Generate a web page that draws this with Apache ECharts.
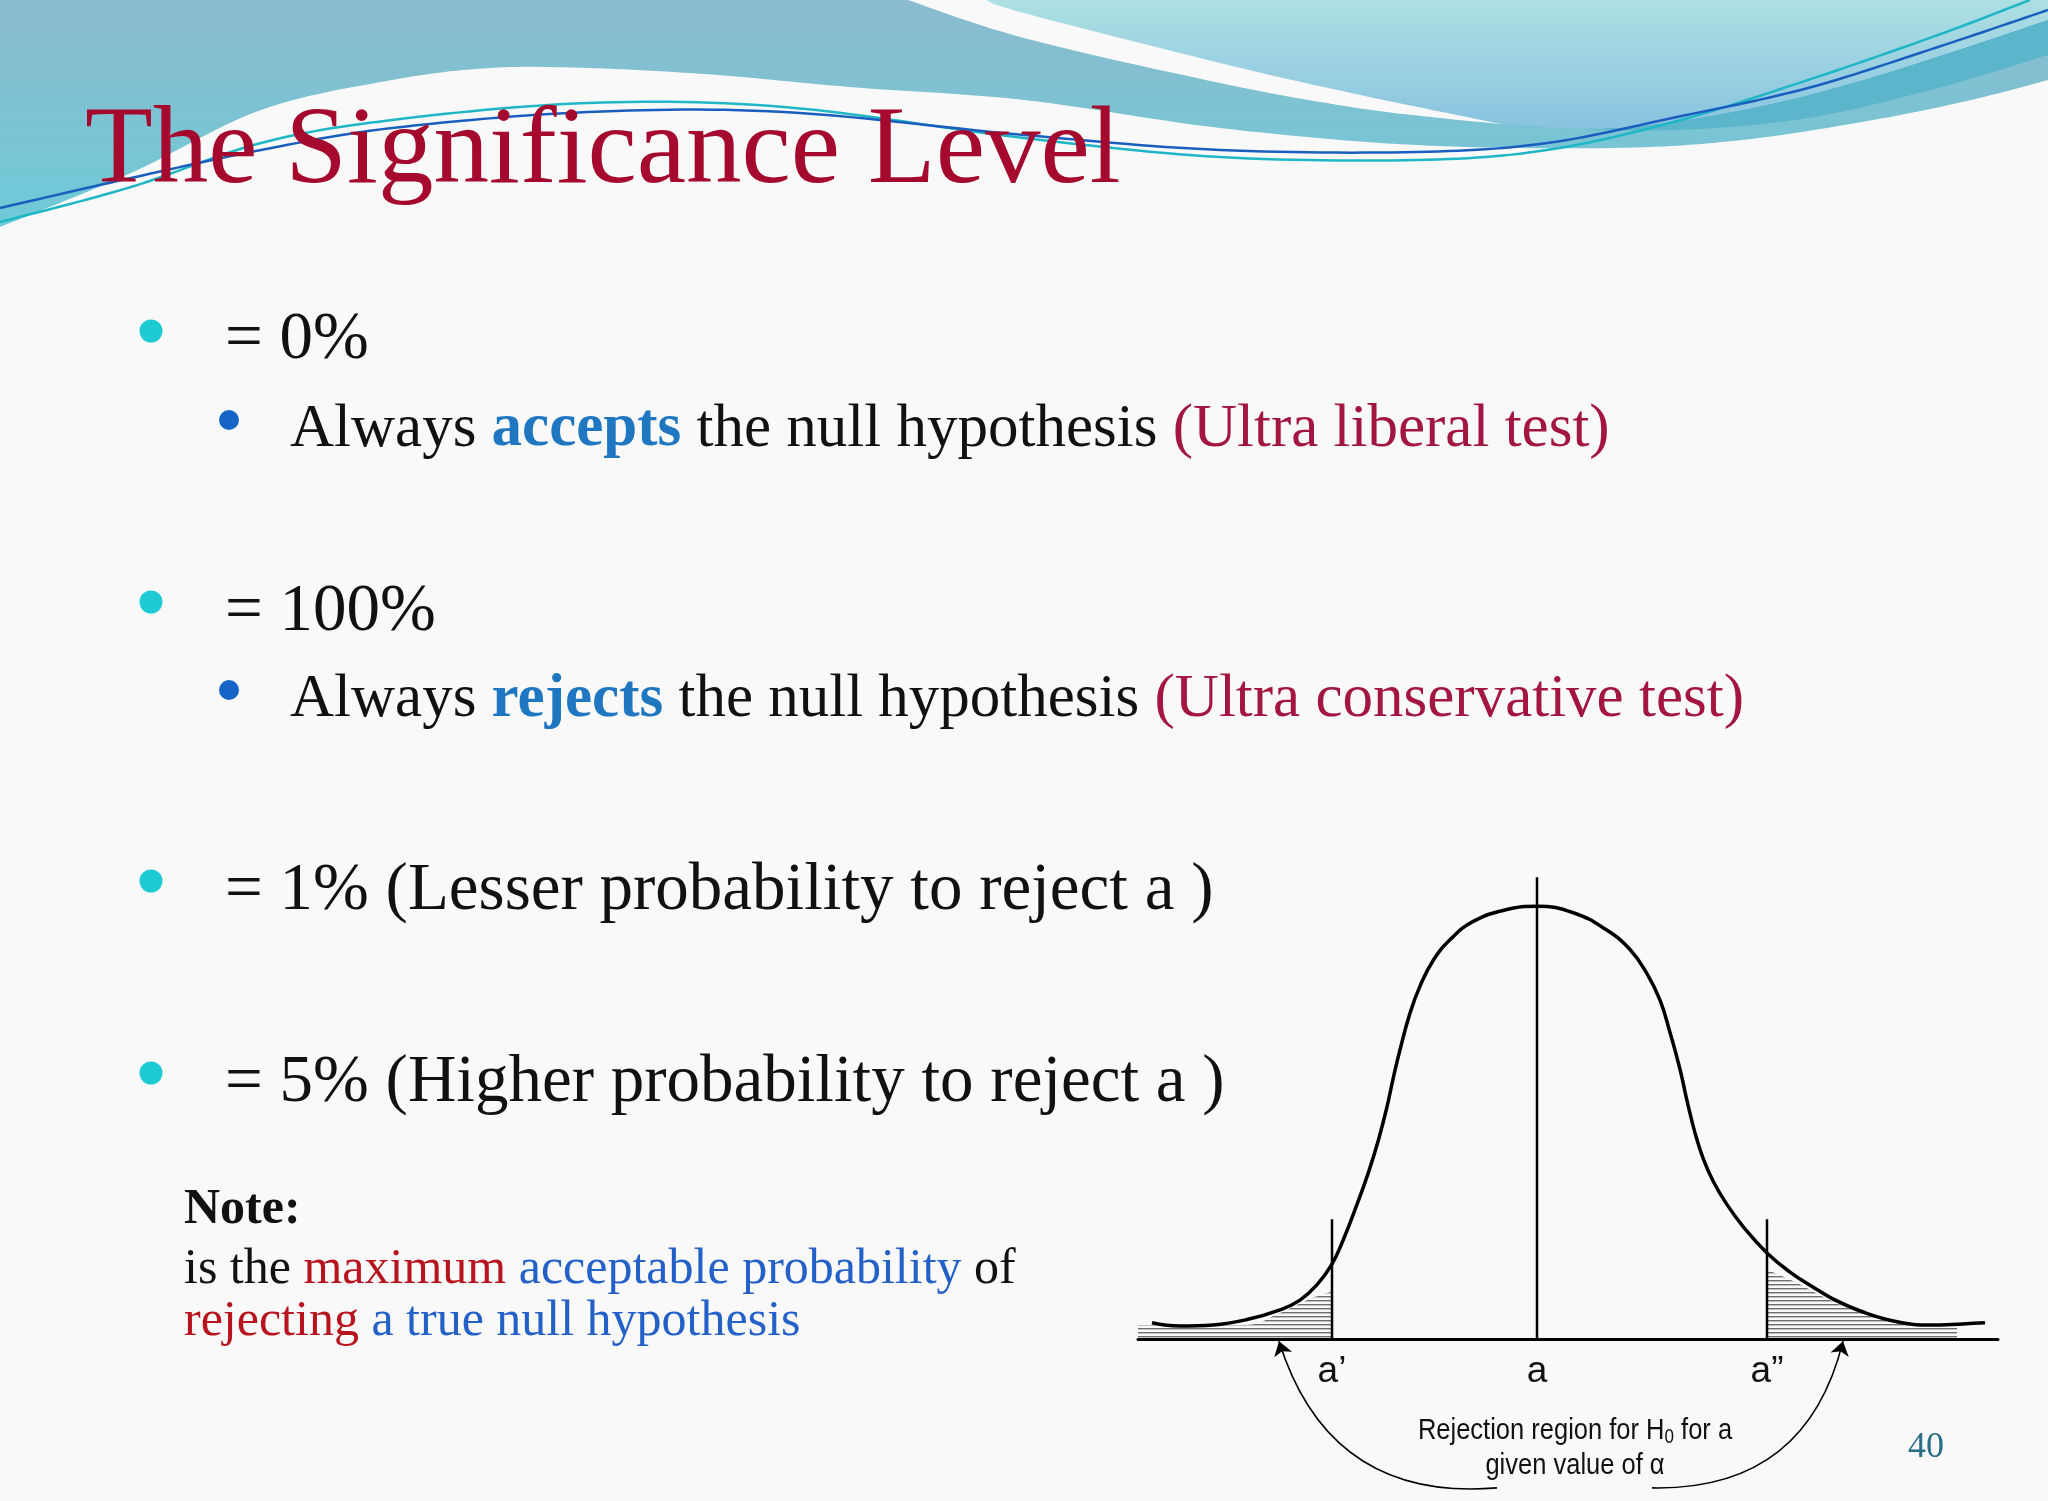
<!DOCTYPE html>
<html><head><meta charset="utf-8">
<script src="https://cdn.jsdelivr.net/npm/echarts@6/dist/echarts.min.js"></script>
<style>html,body{margin:0;padding:0;background:#f9f9f9}#c{width:2048px;height:1501px}</style>
</head><body><div id="c"></div>
<script>
// ---- data (x in units of 100px from "a", y as density) ----
const curveX = [-3.85,-3.57,-3.24,-2.90,-2.57,-2.37,-2.203,-2.053,-1.937,-1.803,-1.687,-1.587,-1.503,-1.437,-1.37,-1.27,-1.17,-1.037,-0.87,-0.637,-0.303,0,0.363,0.697,0.93,1.097,1.23,1.33,1.43,1.497,1.58,1.663,1.763,1.897,2.063,2.297,2.53,2.763,2.963,3.26,3.60,3.93,4.26,4.48];
const curveY = [0.015,0.012,0.013,0.018,0.027,0.036,0.050,0.069,0.092,0.124,0.154,0.184,0.214,0.242,0.268,0.302,0.327,0.351,0.370,0.387,0.398,0.401,0.395,0.379,0.361,0.339,0.314,0.284,0.250,0.222,0.191,0.167,0.146,0.125,0.104,0.080,0.062,0.048,0.037,0.025,0.016,0.013,0.014,0.015];
const leftTailX = [-3.99,-2.90,-2.57,-2.30,-2.05];
const leftTailY = [0.013,0.013,0.024,0.036,0.044];
const rightTailX = [2.30,2.60,2.93,3.26,3.60,4.20];
const rightTailY = [0.064,0.052,0.036,0.024,0.016,0.011];
const markerX = [-2.05, 0, 2.30];
const markerTop = [0.111, 0.428, 0.111];
const markerLabels = ['a\u2019', 'a', 'a\u201D'];
const arrowFrom = [[-0.40,-0.138],[1.15,-0.138]];
const arrowTo = [[-2.58,-0.002],[3.06,-0.002]];
const arrowCurve = [0.4,-0.4];

const titleText = 'The Significance Level';
const pageNumber = '40';

const chart = echarts.init(document.getElementById('c'), null, {renderer:'canvas'});

// hatch pattern
const pat = document.createElement('canvas');
pat.width = 4; pat.height = 4;
const pctx = pat.getContext('2d');
pctx.fillStyle = '#6f6f6f';
pctx.fillRect(0,0,4,1.4);

function spline(pts, seg){
  seg = seg || 14;
  const out = [];
  for (let i=0;i<pts.length-1;i++){
    const p0=pts[Math.max(i-1,0)], p1=pts[i], p2=pts[i+1], p3=pts[Math.min(i+2,pts.length-1)];
    for (let t=0;t<seg;t++){
      const s=t/seg, s2=s*s, s3=s2*s;
      const f = k => 0.5*((2*p1[k])+(-p0[k]+p2[k])*s+(2*p0[k]-5*p1[k]+4*p2[k]-p3[k])*s2+(-p0[k]+3*p1[k]-3*p2[k]+p3[k])*s3);
      out.push([f(0),f(1)]);
    }
  }
  out.push(pts[pts.length-1]);
  return out;
}

const bandLower = [[908,0],[1024,38],[1220,83],[1351,107],[1440,118],[1501,124]];
const bBottom = [[1501,124],[1612,128],[1742,110],[1873,77],[2048,20]];
const hill = [[2048,80],[1971,100],[1873,120],[1742,140],[1612,148],[1416,145],[1220,128],[1024,100],[849,87],[718,75],[588,68],[490,68],[392,80],[261,110],[131,173],[0,227]];
const shapeA = [[0,0]].concat(spline(bandLower), spline(bBottom), spline(hill));
const bandUpperRev = [[1501,124],[1351,93],[1220,63],[1024,13],[986,0]];
const shapeB = [[986,0],[2048,0]].concat(spline(bBottom.slice().reverse()), spline(bandUpperRev));
const crescBottomRev = [[2048,55],[1938,88],[1808,118],[1677,130],[1560,128],[1501,124]];
const crescent = spline(bBottom).concat(spline(crescBottomRev));

const cyanLine = [[0,222],[131,187],[261,143],[392,120],[588,103],[784,107],[1024,138],[1220,157],[1416,160],[1547,150],[1677,121],[1808,80],[1938,35],[2030,0]];
const blueLine = [[0,208],[131,178],[261,150],[392,128],[588,112],[784,112],[1024,135],[1220,150],[1416,152],[1547,143],[1677,117],[1808,88],[1938,47],[2048,10]];

const serif = '"Liberation Serif","Times New Roman",serif';
const sans = '"Liberation Sans Narrow","Arial Narrow","Liberation Sans",Arial,sans-serif';

function txt(x, y, text, rich, extra){
  return Object.assign({type:'text', x:x, y:y, z:10, style:{text:text, rich:rich, verticalAlign:'middle', align:'left'}}, extra||{});
}
const mainRich = {n:{fontFamily:serif, fontSize:67, fill:'#111'}};
const subRich = {
  n:{fontFamily:serif, fontSize:61, fill:'#111'},
  b:{fontFamily:serif, fontSize:61, fontWeight:'bold', fill:'#1f77c2'},
  r:{fontFamily:serif, fontSize:61, fill:'#a3163f'}
};
const noteRich = {
  k:{fontFamily:serif, fontSize:50, fill:'#111'},
  h:{fontFamily:serif, fontSize:50, fontWeight:'bold', fill:'#111'},
  r:{fontFamily:serif, fontSize:50, fill:'#b8141e'},
  b:{fontFamily:serif, fontSize:50, fill:'#2361c8'}
};

const graphics = [
  {type:'polygon', z:1, shape:{points:shapeA}, style:{fill:{type:'linear',x:0,y:0,x2:0,y2:1,colorStops:[{offset:0,color:'#8bbbce'},{offset:1,color:'#6ecad8'}]}}},
  {type:'polygon', z:1, shape:{points:shapeB}, style:{fill:{type:'linear',x:0,y:0,x2:0,y2:1,colorStops:[{offset:0,color:'#addfe3'},{offset:1,color:'#89c3df'}]}}},
  {type:'polygon', z:1, shape:{points:crescent}, style:{fill:'#5bb5cb'}},
  {type:'polyline', z:2, shape:{points:spline(cyanLine)}, style:{stroke:'#1fb6c6', lineWidth:2.5, fill:null}},
  {type:'polyline', z:2, shape:{points:spline(blueLine)}, style:{stroke:'#1a5fbf', lineWidth:2.5, fill:null}},
  {type:'text', x:85, y:153, z:10, style:{text:titleText, fontFamily:serif, fontSize:111, fill:'#a50a2e', verticalAlign:'middle'}},
  // bullets
  {type:'circle', z:5, shape:{cx:151, cy:331, r:11.5}, style:{fill:'#1ecbd5'}},
  {type:'circle', z:5, shape:{cx:229, cy:420, r:10}, style:{fill:'#1565c8'}},
  {type:'circle', z:5, shape:{cx:151, cy:602, r:11.5}, style:{fill:'#1ecbd5'}},
  {type:'circle', z:5, shape:{cx:229, cy:690, r:10}, style:{fill:'#1565c8'}},
  {type:'circle', z:5, shape:{cx:151, cy:881, r:11.5}, style:{fill:'#1ecbd5'}},
  {type:'circle', z:5, shape:{cx:151, cy:1073, r:11.5}, style:{fill:'#1ecbd5'}},
  txt(225, 340.5, '{n|= 0%}', mainRich),
  txt(290, 429.5, '{n|Always }{b|accepts}{n| the null hypothesis }{r|(Ultra liberal test)}', subRich),
  txt(225, 612, '{n|= 100%}', mainRich),
  txt(290, 700, '{n|Always }{b|rejects}{n| the null hypothesis }{r|(Ultra conservative test)}', subRich),
  txt(225, 891.6, '{n|= 1% (Lesser probability to reject a )}', mainRich),
  txt(225, 1083.6, '{n|= 5% (Higher probability to reject a )}', mainRich),
  txt(184, 1210, '{h|Note:}', noteRich),
  txt(184, 1270, '{k|is the }{r|maximum}{b| acceptable probability}{k| of}', noteRich),
  txt(184, 1322, '{r|rejecting}{b| a true null hypothesis}', noteRich),
  {type:'text', x:1575, y:1431, z:10, scaleX:0.85, style:{text:'{t|Rejection region for H}{s|0}{t| for a}', align:'center', verticalAlign:'middle',
    rich:{t:{fontFamily:sans, fontSize:30, fill:'#111'}, s:{fontFamily:sans, fontSize:20, fill:'#111', padding:[12,0,0,0]}}}},
  {type:'text', x:1575, y:1466, z:10, scaleX:0.85, style:{text:'given value of \u03B1', align:'center', verticalAlign:'middle', fontFamily:sans, fontSize:30, fill:'#111'}},
  {type:'text', x:1926, y:1448, z:10, style:{text:pageNumber, align:'center', verticalAlign:'middle', fontFamily:serif, fontSize:36, fill:'#2b6e87'}}
];

const series = [
  {type:'line', data:leftTailX.map((x,i)=>[x,leftTailY[i]]), smooth:0.4, symbol:'none', lineStyle:{width:0}, areaStyle:{color:{image:pat, repeat:'repeat'}, opacity:1}, silent:true, z:2},
  {type:'line', data:rightTailX.map((x,i)=>[x,rightTailY[i]]), smooth:0.4, symbol:'none', lineStyle:{width:0}, areaStyle:{color:{image:pat, repeat:'repeat'}, opacity:1}, silent:true, z:2},
  {type:'line', data:curveX.map((x,i)=>[x,curveY[i]]), smooth:0.45, symbol:'none', lineStyle:{color:'#000', width:3.5}, silent:true, z:4}
].concat(markerX.map((x,i)=>({type:'line', data:[[x,0],[x,markerTop[i]]], symbol:'none', lineStyle:{color:'#000', width:2.5}, silent:true, z:4})))
 .concat([{type:'lines', coordinateSystem:'cartesian2d', clip:false, symbol:['none','arrow'], symbolSize:14, silent:true, z:5,
   lineStyle:{color:'#000', width:1.6, opacity:1},
   data: arrowFrom.map((f,i)=>({coords:[f, arrowTo[i]], lineStyle:{curveness:arrowCurve[i]}}))}]);

chart.setOption({
  backgroundColor:'#f9f9f9',
  animation:false,
  grid:{left:1138, top:875, width:860, height:464, containLabel:false},
  xAxis:{type:'value', min:-3.99, max:4.61, splitLine:{show:false}, axisTick:{show:false},
    axisLine:{show:true, onZero:false, lineStyle:{color:'#000', width:3}},
    axisLabel:{customValues:markerX, margin:33, verticalAlign:'middle', fontFamily:sans, fontSize:37, color:'#111',
      formatter:v=>{const i=markerX.indexOf(v); return i>=0?markerLabels[i]:'';}}},
  yAxis:{type:'value', min:0, max:0.43, show:false},
  graphic:graphics,
  series:series
});
</script></body></html>
